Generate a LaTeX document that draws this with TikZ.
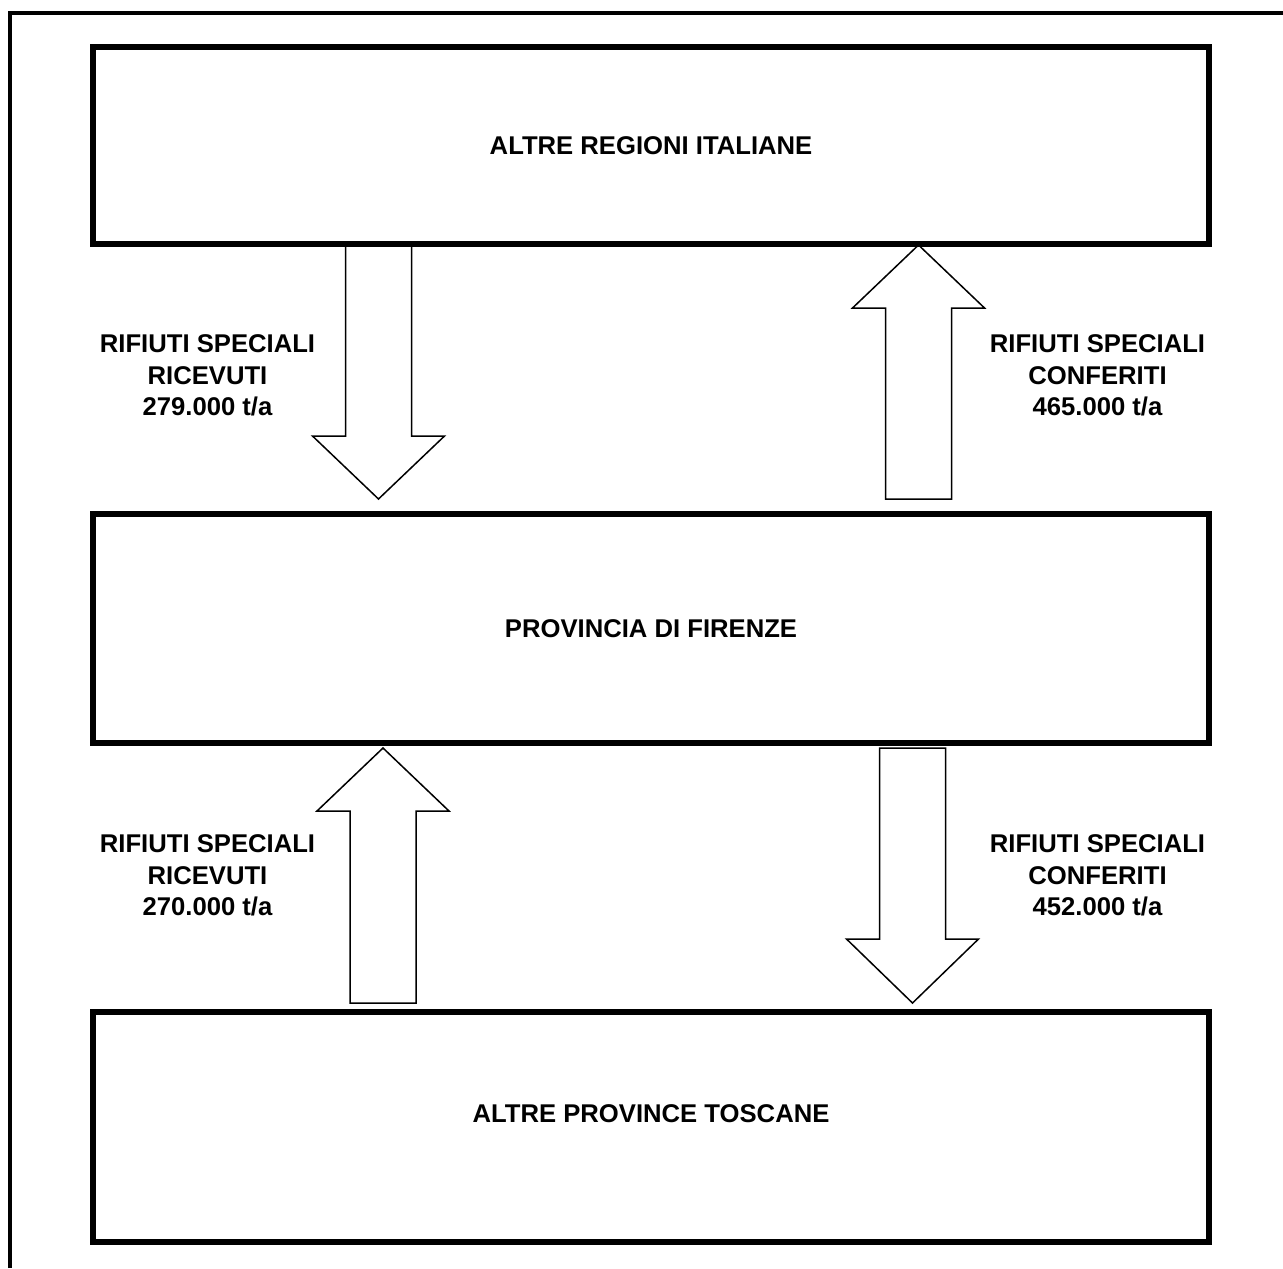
\documentclass[tikz,border=0pt]{standalone}
\usepackage{fontspec}
\setmainfont{Liberation Sans}
\tikzset{
  region/.style={draw, line width=0.12cm, minimum width=22.32cm, inner sep=0pt, outer sep=0pt,
    font=\fontsize{14.6}{18}\selectfont\bfseries},
  flowlabel/.style={align=center, font=\fontsize{14.6}{18}\selectfont\bfseries},
  flow/.style={draw, line width=0.03cm, line join=miter},
  frame/.style={draw, line width=0.07cm},
}
% block arrow: x centre, tail y, head base y, tip y
\newcommand{\flowarrow}[4]{%
  \draw[flow] (#1-33,#2) -- (#1-33,#3) -- (#1-66,#3) -- (#1,#4) -- (#1+66,#3) -- (#1+33,#3) -- (#1+33,#2) -- cycle;}

\begin{document}
\begin{tikzpicture}[x=0.02cm, y=-0.02cm]
    \useasboundingbox (0,0) rectangle (1283,1268);
    \draw[frame] (10,1268) |- (1283,13);

    % Arrows
    \flowarrow{378.5}{245}{436}{499}
    \flowarrow{918.5}{499}{308}{245}
    \flowarrow{383}{1003}{811}{748}
    \flowarrow{912.5}{748}{939}{1003}

    % Regions
    \node[region, minimum height=3.94cm] (regioni) at (651,145.5) {ALTRE REGIONI ITALIANE};
    \node[region, minimum height=4.58cm] (firenze) at (651,628.5) {PROVINCIA DI FIRENZE};
    \node[region, minimum height=4.59cm, text depth=0.52cm] (toscane) at (651,1126.75) {ALTRE PROVINCE TOSCANE};

    % Flow labels
    \node[flowlabel] (ricevutiReg) at (207.5,375.5) {RIFIUTI SPECIALI\\RICEVUTI\\279.000 t/a};
    \node[flowlabel] (conferitiReg) at (1097.5,375.5) {RIFIUTI SPECIALI\\CONFERITI\\465.000 t/a};
    \node[flowlabel] (ricevutiTos) at (207.5,875.5) {RIFIUTI SPECIALI\\RICEVUTI\\270.000 t/a};
    \node[flowlabel] (conferitiTos) at (1097.5,875.5) {RIFIUTI SPECIALI\\CONFERITI\\452.000 t/a};
\end{tikzpicture}
\end{document}
